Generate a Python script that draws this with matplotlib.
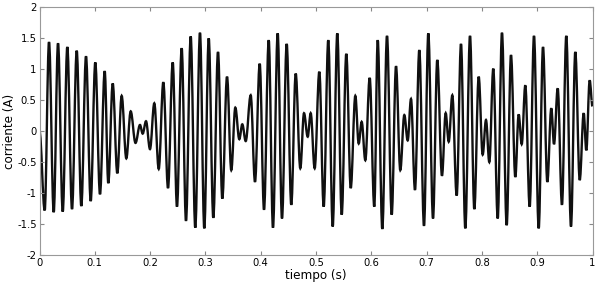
import numpy as np
import matplotlib
matplotlib.use('Agg')
import matplotlib.pyplot as plt
from matplotlib.path import Path
from matplotlib.patches import PathPatch

# extrema of the current waveform (time in s, current in A)
t_peaks = [0.0, 0.0094, 0.0172, 0.0257, 0.0335, 0.0420, 0.0503, 0.0588, 0.0673, 0.0756,
           0.0841, 0.0926, 0.1009, 0.1094, 0.1179, 0.1244, 0.1324, 0.1407, 0.1486, 0.1570,
           0.1649, 0.1736, 0.1817, 0.1866, 0.1926, 0.1998, 0.2076, 0.2156, 0.2239, 0.2324,
           0.2409, 0.2486, 0.2571, 0.2649, 0.2734, 0.2817, 0.2902, 0.2980, 0.3060, 0.3143,
           0.3228, 0.3306, 0.3391, 0.3468, 0.3541, 0.3613, 0.3667, 0.3729, 0.3819, 0.3897,
           0.3982, 0.4060, 0.4145, 0.4222, 0.4307, 0.4385, 0.4470, 0.4553, 0.4633, 0.4716,
           0.4783, 0.4850, 0.4904, 0.4976, 0.5060, 0.5139, 0.5222, 0.5302, 0.5385, 0.5465,
           0.5548, 0.5628, 0.5711, 0.5772, 0.5826, 0.5892, 0.5971, 0.6054, 0.6116, 0.6199,
           0.6284, 0.6369, 0.6447, 0.6524, 0.6597, 0.6658, 0.6718, 0.6790, 0.6868, 0.6953,
           0.7031, 0.7116, 0.7193, 0.7278, 0.7345, 0.7400, 0.7465, 0.7544, 0.7622, 0.7700,
           0.7785, 0.7863, 0.7942, 0.8014, 0.8074, 0.8134, 0.8206, 0.8286, 0.8363, 0.8448,
           0.8526, 0.8604, 0.8665, 0.8720, 0.8785, 0.8864, 0.8942, 0.9027, 0.9105, 0.9183,
           0.9255, 0.9304, 0.9371, 0.9448, 0.9526, 0.9611, 0.9689, 0.9769, 0.9841, 0.9888,
           0.9949, 1.0]
i_peaks = [0.0, -1.28, 1.44, -1.31, 1.42, -1.30, 1.36, -1.26, 1.30, -1.21,
           1.21, -1.13, 1.11, -1.02, 0.97, -0.84, 0.77, -0.68, 0.57, -0.44,
           0.32, -0.19, 0.10, -0.04, 0.16, -0.29, 0.45, -0.61, 0.79, -0.92,
           1.11, -1.22, 1.34, -1.45, 1.53, -1.56, 1.59, -1.57, 1.50, -1.40,
           1.28, -1.09, 0.88, -0.63, 0.38, -0.13, 0.11, -0.16, 0.58, -0.82,
           1.09, -1.27, 1.47, -1.56, 1.58, -1.41, 1.41, -1.19, 0.93, -0.60,
           0.29, -0.09, 0.29, -0.60, 0.96, -1.22, 1.47, -1.54, 1.58, -1.35,
           1.25, -0.92, 0.57, -0.20, 0.15, -0.47, 0.86, -1.22, 1.47, -1.58,
           1.54, -1.35, 1.05, -0.63, 0.26, -0.15, 0.52, -0.95, 1.31, -1.53,
           1.58, -1.41, 1.15, -0.72, 0.29, -0.17, 0.58, -1.04, 1.41, -1.57,
           1.54, -1.26, 0.88, -0.38, 0.18, -0.50, 1.01, -1.41, 1.59, -1.52,
           1.23, -0.74, 0.27, -0.21, 0.74, -1.22, 1.54, -1.57, 1.36, -0.82,
           0.37, -0.21, 0.69, -1.19, 1.54, -1.54, 1.28, -0.79, 0.29, -0.31,
           0.82, 0.40]

x_ticks = [0, 0.1, 0.2, 0.3, 0.4, 0.5, 0.6, 0.7, 0.8, 0.9, 1]
x_labels = ['0', '0.1', '0.2', '0.3', '0.4', '0.5', '0.6', '0.7', '0.8', '0.9', '1']
y_ticks = [-2, -1.5, -1, -0.5, 0, 0.5, 1, 1.5, 2]
y_labels = ['-2', '-1.5', '-1', '-0.5', '0', '0.5', '1', '1.5', '2']

plt.rcParams['font.family'] = ['DejaVu Sans']
plt.rcParams['font.stretch'] = 'condensed'

fig = plt.figure(figsize=(6.02, 2.88), dpi=100)
ax = fig.add_axes([39.5 / 602, 33 / 288, 553 / 602, 247.7 / 288])

# smooth trace between successive extrema: cubic Bezier with flat tangents at each peak
verts = [(t_peaks[0], i_peaks[0])]
codes = [Path.MOVETO]
for k in range(1, len(t_peaks)):
    t0, v0 = t_peaks[k - 1], i_peaks[k - 1]
    t1, v1 = t_peaks[k], i_peaks[k]
    dt = t1 - t0
    verts += [(t0 + 0.3634 * dt, v0), (t1 - 0.3634 * dt, v1), (t1, v1)]
    codes += [Path.CURVE4] * 3
ax.add_patch(PathPatch(Path(verts, codes), facecolor='none',
                       edgecolor='#101010', linewidth=1.7))

ax.set_xlim(0, 1)
ax.set_ylim(-2, 2)
ax.set_xticks(x_ticks)
ax.set_xticklabels(x_labels)
ax.set_yticks(y_ticks)
ax.set_yticklabels(y_labels)
ax.tick_params(direction='in', length=3, width=0.8, color='#888888',
               labelsize=8, top=True, right=True, pad=2)
for s in ax.spines.values():
    s.set_color('#999999')
    s.set_linewidth(0.8)

ax.set_xlabel('tiempo (s)', fontsize=9.5)
ax.set_ylabel('corriente (A)', fontsize=9.5)
ax.xaxis.set_label_coords(0.5, -0.055)
ax.yaxis.set_label_coords(-0.042, 0.5)

fig.savefig('out.png', dpi=100)
